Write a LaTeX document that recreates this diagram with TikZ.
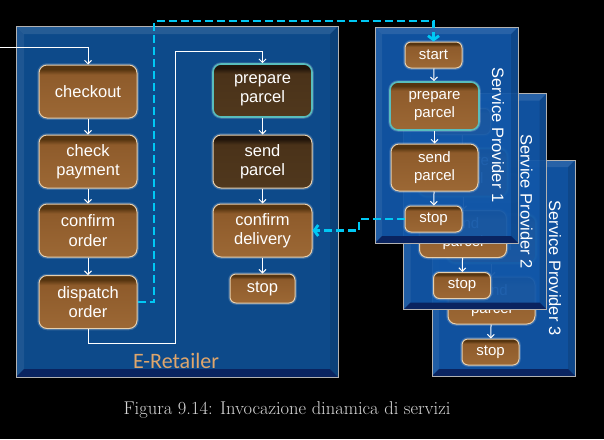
\documentclass[tikz,border=0pt]{standalone}
\usepackage{fontspec}
\usetikzlibrary{arrows.meta}
\newfontfamily\arialf{Liberation Sans}
\newfontfamily\calibf{Carlito}
\definecolor{eblue}{HTML}{0D4A8A}
\definecolor{spblue}{HTML}{1257A8}
\definecolor{navyb}{HTML}{0A2460}
\definecolor{cyanl}{HTML}{00C8F4}
\definecolor{tantext}{HTML}{DFA66C}
\definecolor{nborder}{HTML}{E6CFAE}
\definecolor{tealb}{HTML}{58BDBD}
\definecolor{brA}{HTML}{9C6835}
\definecolor{brB}{HTML}{8E5B2B}
\definecolor{brC}{HTML}{55340F}
\definecolor{dkA}{HTML}{50381D}
\definecolor{dkB}{HTML}{4A3219}
\definecolor{dkC}{HTML}{22150A}
\definecolor{capgray}{HTML}{D8D8D8}
\pgfdeclareverticalshading{brsh}{100bp}{color(0bp)=(brA); color(25bp)=(brA); color(66bp)=(brB); color(71bp)=(brC); color(100bp)=(brC)}
\pgfdeclareverticalshading{dksh}{100bp}{color(0bp)=(dkA); color(25bp)=(dkA); color(66bp)=(dkB); color(71bp)=(dkC); color(100bp)=(dkC)}
\newcommand\mybevel[7]{% x1 y1 x2 y2 colour opacity bevel
  \fill[#5,opacity=#6] (#1,#2) rectangle (#3,#4);
  \fill[white,opacity=0.10] (#1,#2) -- (#3,#2) -- (#3-#7,#2+#7) -- (#1+#7,#2+#7) -- cycle;
  \fill[white,opacity=0.07] (#1,#2) -- (#1+#7,#2+#7) -- (#1+#7,#4-#7) -- (#1,#4) -- cycle;
  \fill[black,opacity=0.12] (#3,#2) -- (#3,#4) -- (#3-#7,#4-#7) -- (#3-#7,#2+#7) -- cycle;
  \fill[navyb] (#1,#4) -- (#3,#4) -- (#3-#7,#4-#7) -- (#1+#7,#4-#7) -- cycle;
  \draw[gray!60,line width=0.8pt] (#1,#2) rectangle (#3,#4);
}
\tikzset{
  nodebase/.style={rounded corners=8pt, draw=nborder, line width=1pt, text=white,
    align=center, inner sep=0pt, font=\arialf\fontsize{16.5}{19.5}\selectfont,
    preaction={draw=white, draw opacity=0.18, line width=3.5pt}},
  brnode/.style={nodebase, shading=brsh},
  dknode/.style={nodebase, shading=dksh},
  spnode/.style={brnode, rounded corners=6pt, font=\arialf\fontsize{15}{18}\selectfont},
  tealed/.style={draw=tealb, line width=1.6pt},
  warr/.style={white, line width=1pt, -{Straight Barb[length=3.5pt,width=7pt]}},
  cyarr/.style={cyanl, line width=2.8pt, dash pattern=on 8pt off 4pt,
    -{Straight Barb[length=4pt,width=11pt]}},
  sptext/.style={text=white, rotate=-90, font=\arialf\fontsize{16.5}{19}\selectfont},
}
\newcommand\spgroup[3]{%
  \begin{scope}[shift={(#2,#3)}]
    \mybevel{375}{27}{518}{243}{spblue}{0.94}{7}
    \node[spnode, minimum width=57pt, minimum height=26pt] (start#1) at (433.5,55) {start};
    \node[spnode, tealed, rounded corners=8pt, minimum width=89pt, minimum height=48pt] (prep#1) at (434.5,106) {prepare\\parcel};
    \node[spnode, rounded corners=8pt, minimum width=87pt, minimum height=47pt] (send#1) at (434.5,167.5) {send\\parcel};
    \node[spnode, minimum width=57pt, minimum height=26pt] (stop#1) at (433.5,219) {stop};
    \draw[warr] (start#1) -- (prep#1);
    \draw[warr] (prep#1) -- (send#1);
    \draw[warr] (send#1) -- (stop#1);
    \node[sptext] (sptitle#1) at (498,135) {Service Provider #1};
  \end{scope}}
\begin{document}
\begin{tikzpicture}[x=1pt,y=-1pt]
\fill[black] (0,0) rectangle (604,439);
\useasboundingbox (0,0) rectangle (604,439);
% E-Retailer
\mybevel{16}{26}{338}{377}{eblue}{1}{8}
\node[text=tantext, font=\calibf\fontsize{22}{24}\selectfont] (etitle) at (176,361) {E-Retailer};
\node[brnode, minimum width=98pt, minimum height=53pt] (checkout) at (88,91.5) {checkout};
\node[brnode, minimum width=98pt, minimum height=53pt] (checkpay) at (88,161.5) {check\\payment};
\node[brnode, minimum width=98pt, minimum height=53pt] (confirm) at (88,230.5) {confirm\\order};
\node[brnode, minimum width=98pt, minimum height=53pt] (dispatch) at (88,302) {dispatch\\order};
\node[dknode, tealed, rounded corners=8pt, minimum width=99pt, minimum height=53pt] (prep) at (262.5,90.5) {prepare\\parcel};
\node[dknode, minimum width=99pt, minimum height=53pt] (send) at (262.5,161.5) {send\\parcel};
\node[brnode, minimum width=99pt, minimum height=53pt] (confdel) at (262.5,230.5) {confirm\\delivery};
\node[brnode, rounded corners=6pt, minimum width=65pt, minimum height=29pt] (stop) at (262.5,288.5) {stop};
\coordinate (in) at (0,47);
\draw[warr] (in) -| (checkout.north);
\draw[warr] (checkout) -- (checkpay);
\draw[warr] (checkpay) -- (confirm);
\draw[warr] (confirm) -- (dispatch);
\draw[warr] (dispatch.south) -- (88,343) -| (175,51) -| (prep.north);
\draw[warr] (prep) -- (send);
\draw[warr] (send) -- (confdel);
\draw[warr] (confdel) -- (stop);
% Service providers
\spgroup{3}{57}{133}
\spgroup{2}{28.5}{66.5}
\spgroup{1}{0}{0}
% dynamic invocation
\draw[cyarr] (dispatch.east) -| (154,21) -| (start1.north);
\draw[cyarr] (stop1.west) -| (359,230.5) -- (confdel.east);
% caption
\node[text=capgray, font=\fontsize{18.5}{21}\selectfont] (caption) at (287,410) {Figura 9.14: Invocazione dinamica di servizi};
\end{tikzpicture}
\end{document}
